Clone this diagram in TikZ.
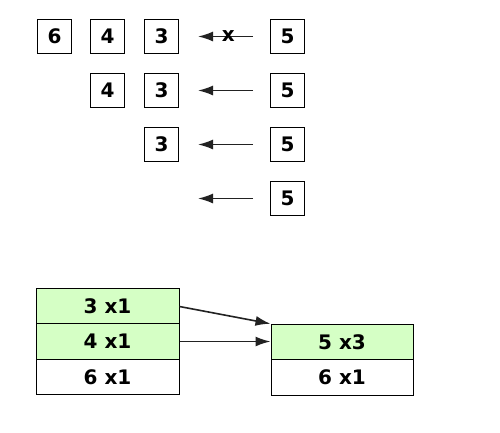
\documentclass[tikz,border=0pt]{standalone}
\usepackage{fontspec}
\setmainfont{DejaVu Sans}
\usetikzlibrary{arrows.meta}
\definecolor{cellgreen}{HTML}{D5FFC5}
\definecolor{arrgray}{HTML}{222222}
\tikzset{
  txt/.style={font=\fontsize{20}{20}\selectfont\bfseries},
  numbox/.style={draw=black, line width=1pt, minimum width=34pt, minimum height=34pt, inner sep=0pt, txt},
  cell/.style={draw=black, line width=1pt, minimum width=143pt, minimum height=35.5pt, inner sep=0pt, txt},
  rcell/.style={cell, minimum width=142pt},
  arr/.style={draw=arrgray, line width=1.6pt, -{Latex[length=15pt,width=10pt]}},
}
\begin{document}
\begin{tikzpicture}[x=1pt,y=-1pt]
\useasboundingbox (0,0) rectangle (500,432);
% row 1
\node[numbox] (a6) at (54.5,36.5) {6};
\node[numbox] (a4) at (107.5,36.5) {4};
\node[numbox] (a3) at (161.5,36.5) {3};
\node[numbox] (a5) at (287.5,36.5) {5};
\coordinate (a5e) at (253,36.5);
\coordinate (a3e) at (198,36.5);
\draw[arr] (a5e) -- node[txt, inner sep=0pt, pos=0.45] (ax) {x} (a3e);
% row 2
\node[numbox] (b4) at (107.5,90.5) {4};
\node[numbox] (b3) at (161.5,90.5) {3};
\node[numbox] (b5) at (287.5,90.5) {5};
\coordinate (b5e) at (253,90.5);
\coordinate (b3e) at (198,90.5);
\draw[arr] (b5e) -- (b3e);
% row 3
\node[numbox] (c3) at (161.5,144.5) {3};
\node[numbox] (c5) at (287.5,144.5) {5};
\coordinate (c5e) at (253,144.5);
\coordinate (c3e) at (198,144.5);
\draw[arr] (c5e) -- (c3e);
% row 4
\node[numbox] (d5) at (287.5,198.5) {5};
\coordinate (d5e) at (253,198.5);
\coordinate (d3e) at (198,198.5);
\draw[arr] (d5e) -- (d3e);
% bottom left stack
\node[cell, fill=cellgreen] (l1) at (107.5,306.5) {3 x1};
\node[cell, fill=cellgreen] (l2) at (107.5,341.5) {4 x1};
\node[cell, fill=white] (l3) at (107.5,377) {6 x1};
% bottom right stack
\node[rcell, fill=cellgreen] (r1) at (342,342) {5 x3};
\node[rcell, fill=white] (r2) at (342,377.5) {6 x1};
\draw[arr] (l1.east) -- (r1.north west);
\draw[arr] (l2.east) -- (l2.east -| r1.west);
\end{tikzpicture}
\end{document}
